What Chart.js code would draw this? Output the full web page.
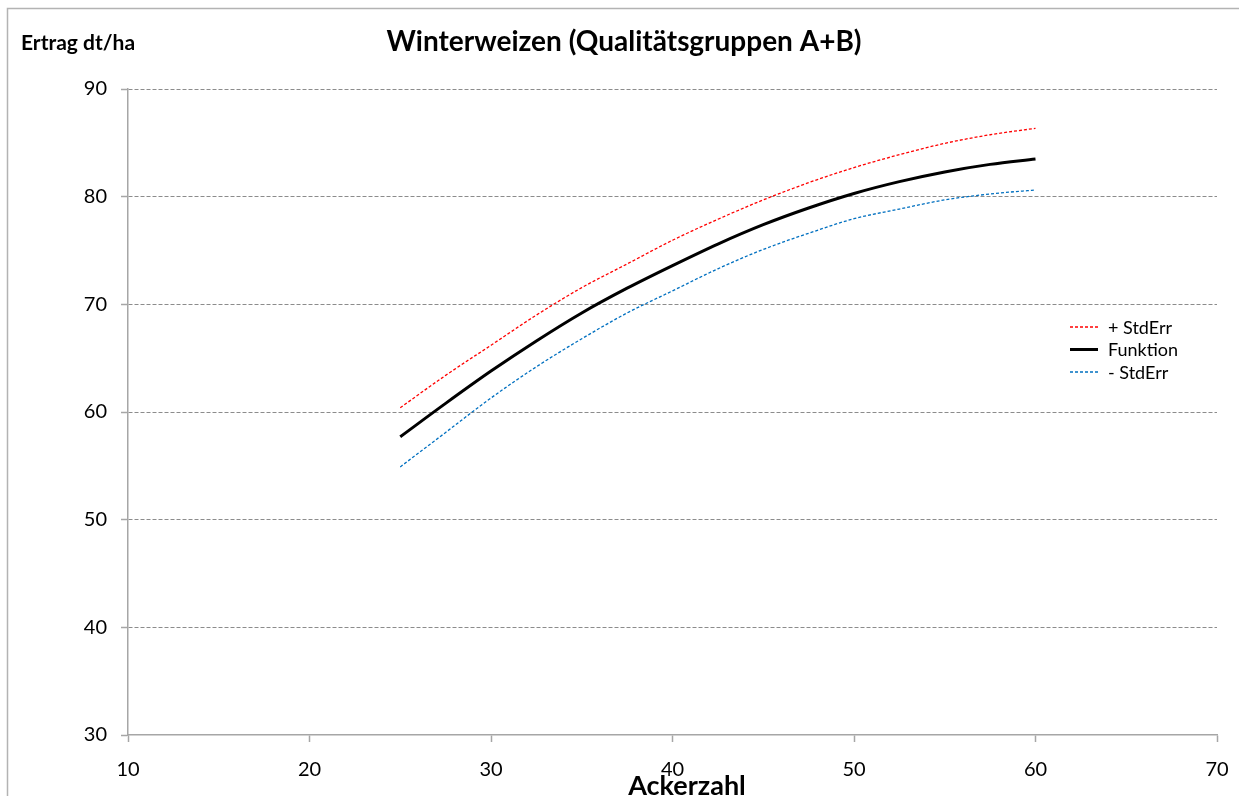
<!DOCTYPE html>
<html>
<head>
<meta charset="utf-8">
<title>Winterweizen</title>
<script src="https://cdn.jsdelivr.net/npm/chart.js@4"></script>
<style>
  html, body { margin: 0; padding: 0; background: #fff; }
  canvas { display: block; }
</style>
</head>
<body>
<canvas id="ertragChart" width="1239" height="796"></canvas>
<script>
// Ackerzahl values and yields (dt/ha) of the fitted curve and its std. error band
const ackerzahl = [25, 27.5, 30, 32.5, 35, 37.5, 40, 42.5, 45, 47.5, 50, 52.5, 55, 57.5, 60];
const plusStdErr = [60.4, 63.4, 66.2, 69.0, 71.55, 73.75, 75.95, 77.9, 79.7, 81.3, 82.7, 83.9, 84.95, 85.75, 86.35];
const funktion = [57.7, 60.8, 63.8, 66.6, 69.2, 71.5, 73.6, 75.6, 77.4, 78.95, 80.3, 81.4, 82.3, 83.0, 83.5];
const minusStdErr = [54.9, 58.1, 61.3, 64.2, 66.8, 69.2, 71.25, 73.3, 75.1, 76.6, 77.95, 78.85, 79.7, 80.25, 80.62];

const xTicks = [10, 20, 30, 40, 50, 60, 70];
const yTicks = [30, 40, 50, 60, 70, 80, 90];

const titleText = 'Winterweizen (Qualitätsgruppen A+B)';
const yTitle = 'Ertrag dt/ha';
const xTitle = 'Ackerzahl';

const FONT = 'Lato, "Open Sans", sans-serif';

const toPoints = (ys) => ackerzahl.map((x, i) => ({ x: x, y: ys[i] }));

// frame, titles and the legend inside the plot
const decorations = {
    id: 'decorations',
    beforeDraw(chart) {
        const c = chart.ctx;
        c.save();
        c.fillStyle = '#fff';
        c.fillRect(0, 0, chart.width, chart.height);
        c.strokeStyle = '#b3b3b3';
        c.lineWidth = 1.5;
        c.beginPath();
        c.moveTo(7.5, chart.height + 5);
        c.lineTo(7.5, 8.5);
        c.lineTo(chart.width + 5, 8.5);
        c.stroke();
        c.restore();
    },
    afterDraw(chart) {
        const c = chart.ctx;
        c.save();
        c.fillStyle = '#000';
        c.textBaseline = 'middle';

        c.textAlign = 'center';
        c.font = 'bold 28px ' + FONT;
        c.fillText(titleText, 624, 42);

        c.textAlign = 'left';
        c.font = 'bold 21px ' + FONT;
        c.fillText(yTitle, 21, 43);

        c.textAlign = 'center';
        c.font = 'bold 27px ' + FONT;
        c.fillText(xTitle, 687, 786);

        // legend
        c.textAlign = 'left';
        c.font = '18px ' + FONT;
        chart.data.datasets.forEach((ds, i) => {
            const y = 327 + i * 22.5;
            c.strokeStyle = ds.borderColor;
            c.lineWidth = ds.borderWidth;
            c.setLineDash(ds.borderDash || []);
            c.beginPath();
            c.moveTo(1070, y);
            c.lineTo(1098, y);
            c.stroke();
            c.setLineDash([]);
            c.fillStyle = '#000';
            c.fillText(ds.label, 1108, y + 1);
        });
        c.restore();
    }
};

const ctx = document.getElementById('ertragChart').getContext('2d');

const ertragChart = new Chart(ctx, {
    type: 'line',
    data: {
        datasets: [{
            label: '+ StdErr',
            data: toPoints(plusStdErr),
            borderColor: '#ff0000',
            borderWidth: 1.3,
            borderDash: [3, 2],
            pointRadius: 0,
            fill: false,
            cubicInterpolationMode: 'monotone'
        }, {
            label: 'Funktion',
            data: toPoints(funktion),
            borderColor: '#000000',
            borderWidth: 3,
            pointRadius: 0,
            fill: false,
            cubicInterpolationMode: 'monotone'
        }, {
            label: '- StdErr',
            data: toPoints(minusStdErr),
            borderColor: '#0070c0',
            borderWidth: 1.3,
            borderDash: [3, 2],
            pointRadius: 0,
            fill: false,
            cubicInterpolationMode: 'monotone'
        }]
    },
    options: {
        responsive: false,
        animation: false,
        layout: { padding: { left: 0, top: 89, right: 22, bottom: 0 } },
        plugins: {
            legend: { display: false },
            title: { display: false },
            tooltip: { enabled: false }
        },
        scales: {
            x: {
                type: 'linear',
                min: xTicks[0],
                max: xTicks[xTicks.length - 1],
                afterBuildTicks: (scale) => { scale.ticks = xTicks.map(v => ({ value: v })); },
                afterFit: (scale) => {
                    scale.height = 61;
                    scale.paddingLeft = 0;
                    scale.paddingRight = 0;
                },
                ticks: { color: '#000', font: { family: FONT, size: 20 }, padding: 16, maxRotation: 0 },
                grid: { drawOnChartArea: false, drawTicks: true, tickLength: 7, tickColor: '#a6a6a6', tickWidth: 1.5 },
                border: { color: '#a6a6a6', width: 1.5 }
            },
            y: {
                min: yTicks[0],
                max: yTicks[yTicks.length - 1],
                afterBuildTicks: (scale) => { scale.ticks = yTicks.map(v => ({ value: v })); },
                afterFit: (scale) => {
                    scale.width = 128;
                    scale.paddingTop = 0;
                    scale.paddingBottom = 0;
                },
                ticks: { color: '#000', font: { family: FONT, size: 20 }, padding: 14 },
                grid: {
                    color: (c) => c.tick && c.tick.value === yTicks[0] ? 'rgba(0,0,0,0)' : '#8c8c8c',
                    lineWidth: 1,
                    tickLength: 7,
                    tickColor: '#a6a6a6',
                    tickWidth: 1.5,
                    tickBorderDash: []
                },
                border: { color: '#a6a6a6', width: 1.5, dash: [4, 2] }
            }
        }
    },
    plugins: [decorations]
});
</script>
</body>
</html>
